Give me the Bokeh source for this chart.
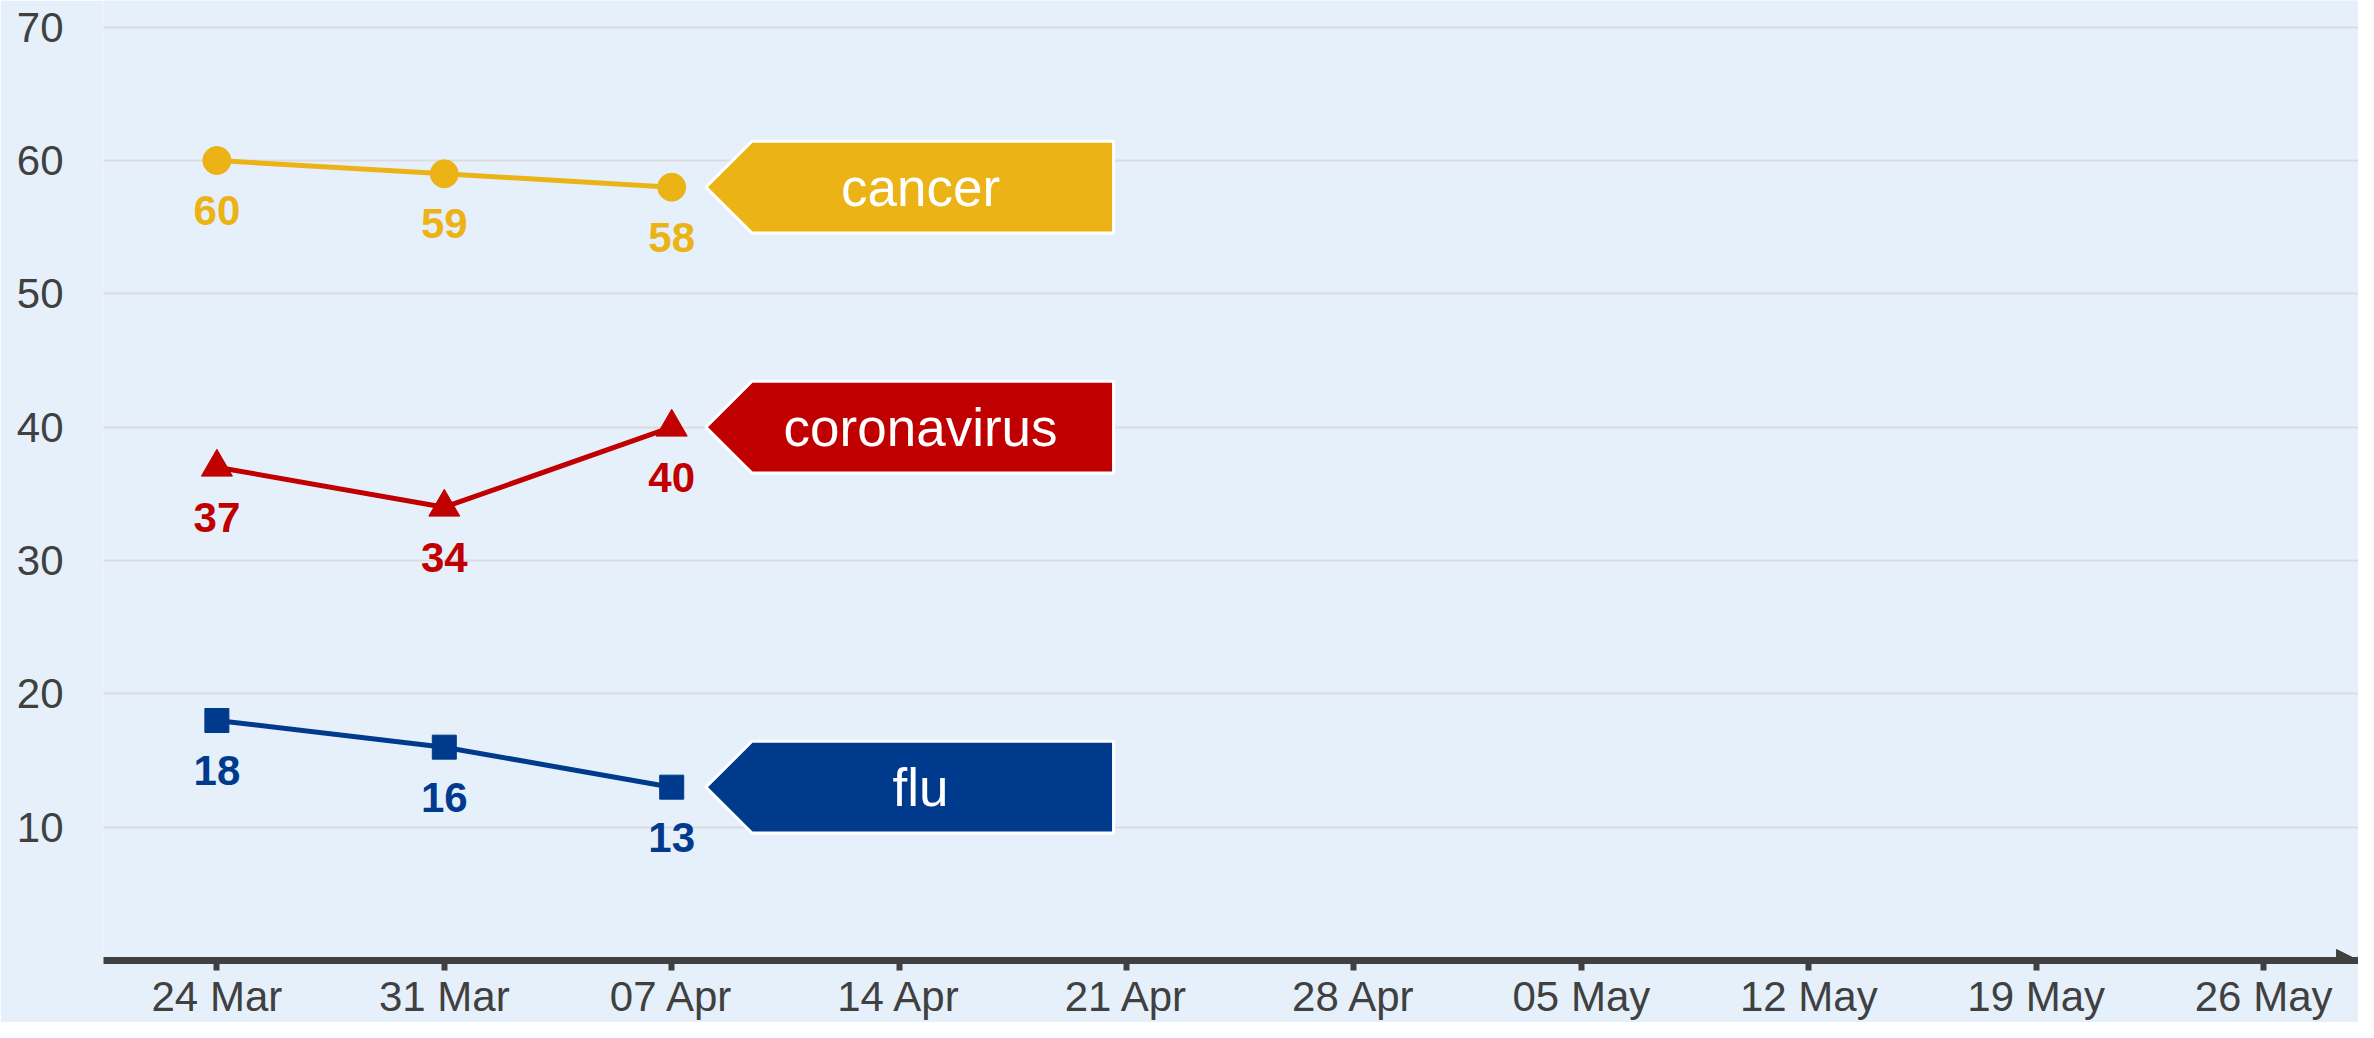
import pandas as pd
from bokeh.plotting import figure
from bokeh.models import Range1d, FixedTicker, DatetimeTickFormatter, Arrow, NormalHead
from bokeh.core.properties import value
from bokeh.embed import file_html
from bokeh.resources import INLINE

# ---- data ----
dates = ["2020-03-24", "2020-03-31", "2020-04-07"]
cancer = [60, 59, 58]
coronavirus = [37, 34, 40]
flu = [18, 16, 13]
series_names = ["cancer", "coronavirus", "flu"]
series_colors = ["#EBB315", "#C00000", "#003A8C"]
series_markers = ["circle", "triangle", "square"]
series_sizes = [28, 31, 24]
tick_dates = ["2020-03-24", "2020-03-31", "2020-04-07", "2020-04-14", "2020-04-21",
              "2020-04-28", "2020-05-05", "2020-05-12", "2020-05-19", "2020-05-26"]
y_ticks = [10, 20, 30, 40, 50, 60, 70]

BG = "#E6F0FA"
AXIS = "#404040"
FONT = "Liberation Sans"
DAY = 86400000.0


def ms(d):
    return pd.Timestamp(d).value / 1e6


xs = [ms(d) for d in dates]
x0 = ms(tick_dates[0]) - 3.49 * DAY
x1 = ms(tick_dates[-1]) + 2.92 * DAY

p = figure(width=2358, height=1022, x_axis_type="datetime",
           x_range=Range1d(x0, x1), y_range=Range1d(0, 72),
           output_backend="svg", toolbar_location=None,
           min_border_left=103, min_border_right=0, min_border_top=0,
           min_border_bottom=60)
p.background_fill_color = BG
p.border_fill_color = BG
p.outline_line_color = None

p.xgrid.visible = False
p.ygrid.grid_line_color = "#D9DBDE"
p.ygrid.grid_line_width = 2
p.ygrid.ticker = FixedTicker(ticks=y_ticks)

# y axis
p.yaxis.ticker = FixedTicker(ticks=y_ticks)
p.yaxis.axis_line_color = None
p.yaxis.major_tick_line_color = None
p.yaxis.minor_tick_line_color = None
p.yaxis.major_label_standoff = 34
p.yaxis.major_label_text_font = FONT
p.yaxis.major_label_text_font_size = "42px"
p.yaxis.major_label_text_color = AXIS

# x axis
p.xaxis.ticker = FixedTicker(ticks=[ms(d) for d in tick_dates])
fmt = "%d %b"
p.xaxis.formatter = DatetimeTickFormatter(days=fmt, months=fmt, hours=fmt, minutes=fmt,
                                          seconds=fmt, milliseconds=fmt, years=fmt)
p.xaxis.axis_line_color = AXIS
p.xaxis.axis_line_width = 7
p.xaxis.major_tick_line_color = AXIS
p.xaxis.major_tick_line_width = 6
p.xaxis.major_tick_in = 0
p.xaxis.major_tick_out = 10
p.xaxis.minor_tick_line_color = None
p.xaxis.major_label_standoff = 2
p.xaxis.major_label_text_font = FONT
p.xaxis.major_label_text_font_size = "42px"
p.xaxis.major_label_text_color = AXIS

# arrow head at the end of the x axis
p.add_layout(Arrow(end=NormalHead(size=22, fill_color=AXIS, line_color=AXIS),
                   x_start=x1 - 2 * DAY, y_start=0, x_end=x1, y_end=0,
                   line_alpha=0))

all_series = [cancer, coronavirus, flu]
for name, ys, col, mk, sz in zip(series_names, all_series, series_colors,
                                 series_markers, series_sizes):
    p.line(xs, ys, line_color=col, line_width=5)
    p.scatter(xs, ys, marker=mk, size=sz, fill_color=col, line_color=col)
    p.text(xs, ys, text=[str(v) for v in ys], y_offset=50,
           text_align="center", text_baseline="middle",
           text_font=value(FONT), text_font_style="bold",
           text_font_size="42px", text_color=col)

    # callout tag pointing at the last value
    xl, yl = xs[-1], ys[-1]
    tip = xl + 1.05 * DAY
    bl = xl + 2.47 * DAY
    right = xl + 13.6 * DAY
    h = 3.44
    p.patch([tip, bl, right, right, bl], [yl, yl + h, yl + h, yl - h, yl - h],
            fill_color=col, line_color="white", line_width=3)
    p.text([xl + 7.66 * DAY], [yl], text=[name], text_align="center",
           text_baseline="middle", text_font=value(FONT),
           text_font_size="53px", text_color="white")

open("out.html", "w").write(file_html(p, INLINE))
